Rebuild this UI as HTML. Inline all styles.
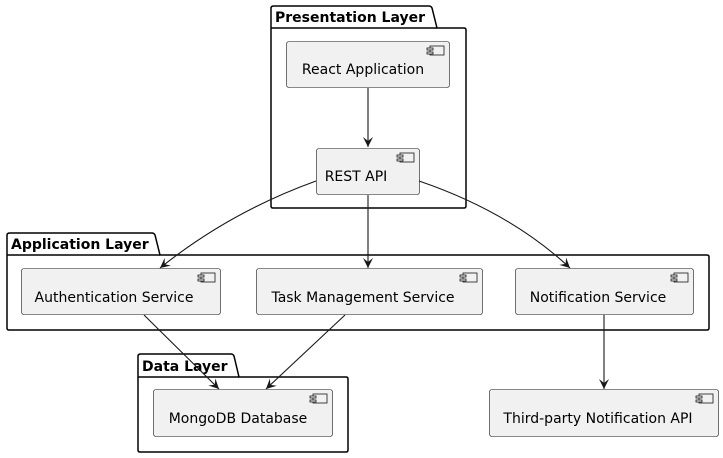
<!DOCTYPE html>
<html><head><meta charset="utf-8"><style>
html,body{margin:0;padding:0;background:#fff;}
svg{display:block;}
text{font-family:"DejaVu Sans","Liberation Sans",sans-serif;}
</style></head><body>
<svg width="723" height="458" viewBox="0 0 723 458" xmlns="http://www.w3.org/2000/svg">
<defs>
<marker id="ah" markerWidth="12" markerHeight="12" refX="10" refY="5" orient="auto" markerUnits="userSpaceOnUse">
<path d="M0,0 L10,5 L0,10 L4,5 Z" fill="#181818"/>
</marker>
<g id="ic">
<rect x="3" y="0" width="14" height="9" fill="#f1f1f1" stroke="#181818" stroke-width="0.8"/>
<rect x="0" y="2" width="6" height="2" fill="#f1f1f1" stroke="#181818" stroke-width="0.8"/>
<rect x="0" y="6" width="6" height="2" fill="#f1f1f1" stroke="#181818" stroke-width="0.8"/>
</g>
</defs>
<g fill="none" stroke="#000" stroke-width="1.5">
<path d="M274,6 H429 Q431,6 432,8 L437,28 H464 Q466,28 466,30 V206 Q466,208 464,208 H273 Q271,208 271,206 V8 Q271,6 274,6 Z"/>
<line x1="271" y1="28" x2="437" y2="28"/>
<path d="M10,233 H152 Q154,233 155,235 L160,255 H707 Q709,255 709,257 V328 Q709,330 707,330 H9 Q7,330 7,328 V235 Q7,233 10,233 Z"/>
<line x1="7" y1="255" x2="160" y2="255"/>
<path d="M141,354 H231 Q233,354 234,356 L239,377 H346 Q348,377 348,379 V450 Q348,452 346,452 H140 Q138,452 138,450 V356 Q138,354 141,354 Z"/>
<line x1="138" y1="377" x2="239" y2="377"/>
</g>
<g font-weight="bold" font-size="14" fill="#000">
<text x="275" y="22">Presentation Layer</text>
<text x="11" y="249">Application Layer</text>
<text x="142" y="371">Data Layer</text>
</g>
<g fill="#f1f1f1" stroke="#181818" stroke-width="0.6">
<rect x="286.5" y="41.5" width="163" height="46" rx="2.5"/>
<rect x="316.5" y="148.5" width="103" height="46" rx="2.5"/>
<rect x="21.5" y="268.5" width="199" height="46" rx="2.5"/>
<rect x="256.5" y="268.5" width="226" height="46" rx="2.5"/>
<rect x="515.5" y="268.5" width="178" height="46" rx="2.5"/>
<rect x="153.5" y="389.5" width="179" height="47" rx="2.5"/>
<rect x="489.5" y="389.5" width="229" height="47" rx="2.5"/>
</g>
<use href="#ic" x="427" y="46"/>
<use href="#ic" x="397" y="153"/>
<use href="#ic" x="198" y="273"/>
<use href="#ic" x="460" y="273"/>
<use href="#ic" x="671" y="273"/>
<use href="#ic" x="310" y="394"/>
<use href="#ic" x="696" y="394"/>
<g font-size="14" fill="#000" text-anchor="middle">
<text x="363" y="74">React Application</text>
<text x="356" y="181">REST API</text>
<text x="114" y="302">Authentication Service</text>
<text x="363" y="302">Task Management Service</text>
<text x="598" y="302">Notification Service</text>
<text x="238" y="423">MongoDB Database</text>
<text x="598" y="423">Third-party Notification API</text>
</g>
<g fill="none" stroke="#181818" stroke-width="1.1" marker-end="url(#ah)">
<line x1="368" y1="88" x2="368" y2="147"/>
<path d="M316,181 Q230,212 160,268"/>
<line x1="368" y1="195" x2="368" y2="268"/>
<path d="M419,181 Q510,212 570,268"/>
<line x1="144" y1="315" x2="219" y2="389"/>
<line x1="345" y1="315" x2="266" y2="389"/>
<line x1="604" y1="315" x2="604" y2="389"/>
</g>
</svg>
</body></html>
